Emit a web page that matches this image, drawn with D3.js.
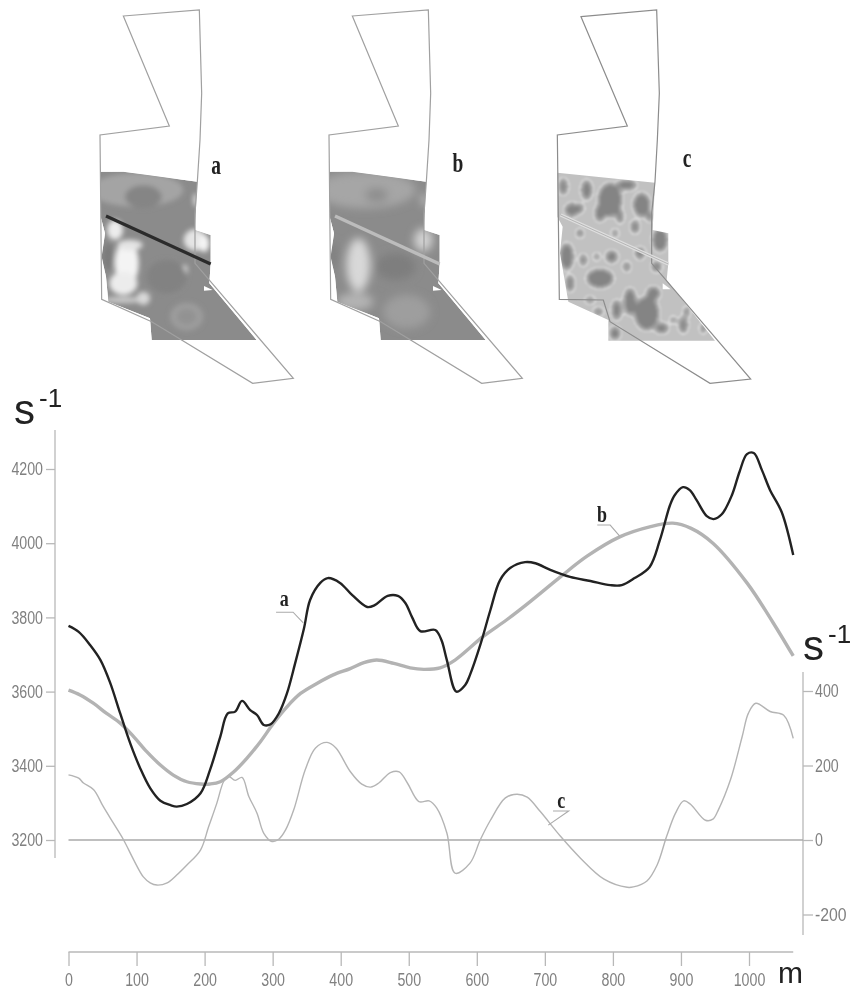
<!DOCTYPE html>
<html>
<head>
<meta charset="utf-8">
<script src="https://cdnjs.cloudflare.com/ajax/libs/d3/7.8.5/d3.min.js"></script>
<style>
  html, body { margin: 0; padding: 0; background: #fff; }
  svg { display: block; filter: blur(0.4px); }
  .axis text { font: 18px "Liberation Sans", sans-serif; fill: #808080; }
  .axis path, .axis line { fill: none; stroke: #b8b8b8; stroke-width: 1.3; }
  .unit { font-family: "Liberation Sans", sans-serif; fill: #222; }
  .tag { font-family: "Liberation Serif", serif; font-weight: bold; fill: #222; }
</style>
</head>
<body>
<script>
// profile curves: [distance m, value]
var seriesA = [[0,3777],[15,3761],[32,3725],[47,3685],[61,3625],[76,3541],[91,3459],[105,3395],[120,3340],[135,3306],[150,3294],[159,3290],[174,3297],[194,3326],[208,3389],[223,3478],[234,3541],[245,3546],[255,3575],[267,3550],[277,3537],[287,3510],[297,3512],[309,3541],[321,3595],[333,3676],[346,3770],[355,3847],[370,3893],[381,3906],[399,3893],[417,3860],[439,3828],[450,3833],[469,3858],[484,3858],[495,3839],[505,3800],[517,3763],[539,3766],[548,3739],[556,3685],[570,3600],[583,3618],[590,3645],[605,3725],[620,3820],[634,3900],[649,3933],[671,3949],[686,3946],[708,3928],[737,3909],[767,3898],[796,3887],[813,3887],[832,3906],[854,3936],[869,4008],[884,4103],[891,4130],[903,4151],[913,4143],[923,4116],[938,4073],[948,4065],[960,4078],[975,4130],[986,4192],[997,4240],[1007,4243],[1019,4197],[1031,4143],[1048,4084],[1065,3968]];
var seriesB = [[0,3604],[17,3591],[37,3568],[56,3541],[76,3515],[96,3478],[115,3438],[135,3402],[154,3375],[174,3357],[194,3351],[208,3351],[223,3357],[243,3384],[262,3420],[282,3465],[301,3514],[321,3559],[341,3595],[365,3622],[389,3645],[414,3662],[434,3678],[453,3685],[478,3676],[502,3664],[522,3660],[546,3664],[568,3685],[609,3748],[645,3795],[678,3842],[722,3908],[762,3965],[810,4017],[854,4044],[888,4054],[915,4040],[947,4000],[997,3893],[1035,3787],[1065,3696]];
var seriesC = [[0,175],[15,166],[22,153],[37,135],[51,90],[66,45],[81,0],[96,-54],[110,-99],[120,-115],[130,-121],[145,-115],[159,-94],[174,-67],[194,-27],[206,36],[218,99],[228,157],[235,171],[245,160],[255,168],[265,117],[277,72],[287,18],[299,-4],[309,2],[319,27],[331,81],[348,189],[363,247],[380,262],[393,247],[414,184],[431,150],[444,142],[456,153],[473,181],[486,183],[498,153],[515,103],[530,105],[541,86],[556,19],[568,-89],[590,-62],[605,0],[620,53],[642,113],[659,123],[674,115],[693,77],[723,10],[752,-48],[787,-105],[821,-127],[830,-126],[850,-110],[865,-67],[879,10],[892,72],[904,105],[914,96],[936,53],[947,56],[955,81],[973,163],[990,278],[999,340],[1010,367],[1031,345],[1051,335],[1065,273]];

var xTicks = [0,100,200,300,400,500,600,700,800,900,1000];
var leftTicks = [3200,3400,3600,3800,4000,4200];
var rightTicks = [-200,0,200,400];

// curve labels and their leader lines, in distance / left axis units
var leaderA = [[305,3814],[330,3814],[345,3785]];
var leaderB = [[777,4049],[796,4049],[810,4019]];
var leaderC = [[712,3278],[735,3278],[705,3240]];
var curveTags = [["a",317,3831],["b",784,4057],["c",724,3286]];

// map sheets, outline and raster edge in sheet units
var outlineAB = [[130,48],[358,30],[365,280],[360,420],[352,545],[345,640],[345,790],[640,1135],[518,1150],[215,965],[65,898],[60,405],[268,378]];
var outlineC = [[123,50],[350,30],[358,280],[352,420],[345,545],[335,640],[335,790],[632,1137],[510,1150],[210,965],[190,900],[58,898],[52,405],[262,378]];
var rasterAB = [[60,515],[130,515],[352,545],[345,690],[392,705],[392,790],[388,850],[530,1020],[215,1020],[210,955],[85,905],[78,830],[65,770],[75,700],[62,650]];
var rasterC = [[52,518],[345,548],[338,690],[385,700],[385,790],[380,840],[525,1022],[205,1022],[205,960],[85,905],[60,760],[68,680],[52,650]];
var notchAB = [[372,858],[398,870],[372,872]];
var notchC = [[368,850],[392,868],[368,868]];
var profileAB = [[78,648],[392,792]];
var profileC = [[62,645],[385,792]];

// blobs seen on the maps: cx, cy, rx, ry, grey
var blobsA = [[170,570,140,50,"#a4a4a4"],[190,590,55,34,"#858585"],[140,790,36,70,"#f4f4f4"],[130,850,42,35,"#ececec"],[105,690,24,30,"#ececec"],[150,735,38,16,"#e4e4e4"],[345,720,34,32,"#e4e4e4"],[372,730,16,26,"#f4f4f4"],[130,900,70,9,"#cccccc"],[190,895,20,20,"#d8d8d8"],[315,810,8,16,"#dcdcdc"],[346,600,5,20,"#f4f4f4"],[85,770,16,40,"#7c7c7c"],[320,950,50,42,"#9c9c9c"],[320,950,28,22,"#929292"],[260,830,60,50,"#828282"]];
var blobsB = [[170,570,150,55,"#a6a6a6"],[203,585,34,22,"#8e8e8e"],[148,795,36,80,"#d8d8d8"],[343,720,28,34,"#d2d2d2"],[138,905,55,26,"#b4b4b4"],[73,765,15,40,"#808080"],[293,935,70,50,"#9e9e9e"],[260,800,60,40,"#7e7e7e"],[346,600,5,18,"#f0f0f0"]];
var blobsC = [[210,600,35,50],[305,615,25,35],[80,770,20,40],[80,770,12,28],[180,835,40,28],[215,770,18,18],[320,940,36,50],[270,905,18,40],[230,930,14,30],[365,985,20,15],[430,975,12,25],[225,1000,15,20],[95,630,20,20],[140,570,15,30],[260,555,30,15],[360,720,22,35],[260,800,10,15],[350,800,15,15],[70,560,12,25],[175,935,15,10],[120,700,10,12],[180,640,15,25],[285,680,12,20],[440,935,8,15],[400,960,8,10],[490,985,8,15],[170,770,8,10],[130,780,10,18],[300,760,14,18],[240,650,10,20],[120,625,10,14],[340,880,20,20],[90,850,12,25],[330,650,10,14],[225,700,8,12],[150,900,14,8]];
var mapTags = [["a",216,174],["b",458,172],["c",687,167]];

var width = 853, height = 991;
var svg = d3.select("body").append("svg").attr("width", width).attr("height", height);

var x = d3.scaleLinear().domain([0,1000]).range([68.5,749]);
var yLeft = d3.scaleLinear().domain([3200,4200]).range([840,469]);
var yRight = d3.scaleLinear().domain([0,400]).range([840,691]);

// ---- maps ----
var defs = svg.append("defs");
defs.append("filter").attr("id","softA").append("feGaussianBlur").attr("stdDeviation",2.6);
defs.append("filter").attr("id","softB").append("feGaussianBlur").attr("stdDeviation",4.5);

// blurred blobs cut into grey bands, gives the contour look of map c
var bands = defs.append("filter").attr("id","bands").attr("color-interpolation-filters","sRGB");
bands.append("feGaussianBlur").attr("stdDeviation",2.8);
var table = bands.append("feComponentTransfer");
["feFuncR","feFuncG","feFuncB"].forEach(function(f) {
  table.append(f).attr("type","discrete").attr("tableValues","0.52 0.57 0.62 0.67 0.72 0.85 0.76");
});
bands.append("feGaussianBlur").attr("stdDeviation",0.8);

function drawMap(id, left, outline, raster, profile, notch, blobs) {
  var mx = d3.scaleLinear().domain([0,720]).range([left,left+240]);
  var my = d3.scaleLinear().domain([0,1170]).range([0,390]);
  var closed = d3.line().x(function(d){return mx(d[0]);}).y(function(d){return my(d[1]);}).curve(d3.curveLinearClosed);
  var open = d3.line().x(function(d){return mx(d[0]);}).y(function(d){return my(d[1]);});

  defs.append("clipPath").attr("id","clip"+id).append("path").attr("d", closed(raster));
  var g = svg.append("g").attr("clip-path","url(#clip"+id+")");

  if (id == "c") {
    var inner = g.append("g").attr("filter","url(#bands)");
    inner.append("rect").attr("x",mx(20)).attr("y",my(480)).attr("width",mx(560)-mx(20)).attr("height",my(1060)-my(480)).attr("fill","#fff");
    inner.selectAll("ellipse").data(blobs).enter().append("ellipse")
      .attr("cx", function(d){return mx(d[0]);})
      .attr("cy", function(d){return my(d[1]);})
      .attr("rx", function(d){return mx(d[2])-mx(0);})
      .attr("ry", function(d){return my(d[3])-my(0);})
      .attr("fill","#000");
  } else {
    g.append("path").attr("d", closed(raster)).attr("fill","#8b8b8b");
    g.append("g").attr("filter","url(#soft"+id.toUpperCase()+")").selectAll("ellipse").data(blobs).enter().append("ellipse")
      .attr("cx", function(d){return mx(d[0]);})
      .attr("cy", function(d){return my(d[1]);})
      .attr("rx", function(d){return mx(d[2])-mx(0);})
      .attr("ry", function(d){return my(d[3])-my(0);})
      .attr("fill", function(d){return d[4];});
  }
  g.append("path").attr("d", closed(notch)).attr("fill","#fff");

  svg.append("path").attr("d", closed(outline)).attr("fill","none")
    .attr("stroke", id == "c" ? "#8c8c8c" : "#a0a0a0").attr("stroke-width",1.2);

  if (id == "a") {
    svg.append("path").attr("d", open(profile)).attr("stroke","#2b2b2b").attr("stroke-width",3.2).attr("fill","none");
  } else if (id == "b") {
    svg.append("path").attr("d", open(profile)).attr("stroke","#bcbcbc").attr("stroke-width",3.4).attr("fill","none");
  } else {
    svg.append("path").attr("d", open(profile)).attr("stroke","#dedede").attr("stroke-width",3.4).attr("fill","none");
    svg.append("path").attr("d", open(profile)).attr("stroke","#b0b0b0").attr("stroke-width",0.9).attr("fill","none");
  }
}

drawMap("a", 80, outlineAB, rasterAB, profileAB, notchAB, blobsA);
drawMap("b", 309, outlineAB, rasterAB, profileAB, notchAB, blobsB);
drawMap("c", 540, outlineC, rasterC, profileC, notchC, blobsC);

svg.selectAll(".mapTag").data(mapTags).enter().append("text")
  .attr("class","tag mapTag")
  .attr("transform", function(d){return "translate("+d[1]+","+d[2]+") scale(0.72,1)";})
  .attr("text-anchor","middle").attr("font-size",27)
  .text(function(d){return d[0];});

// ---- axes ----
function squeeze(g) {
  // the scan has tall narrow digits
  g.selectAll("text")
    .attr("textLength", function(d){return String(d).length*7.9;})
    .attr("lengthAdjust","spacingAndGlyphs");
}
var axisL = d3.axisLeft(yLeft).tickValues(leftTicks).tickSize(9).tickSizeOuter(0).tickPadding(3).tickFormat(String);
var gL = svg.append("g").attr("class","axis").attr("transform","translate(55,0)").call(axisL);
gL.select(".domain").attr("d","M0,430V858");
squeeze(gL);

var axisR = d3.axisRight(yRight).tickValues(rightTicks).tickSize(10).tickSizeOuter(0).tickPadding(2).tickFormat(String);
var gR = svg.append("g").attr("class","axis").attr("transform","translate(803,0)").call(axisR);
gR.select(".domain").attr("d","M0,672V935");
squeeze(gR);

var axisB = d3.axisBottom(x).tickValues(xTicks).tickSize(14).tickSizeOuter(0).tickPadding(7).tickFormat(String);
var gB = svg.append("g").attr("class","axis").attr("transform","translate(0,952)").call(axisB);
gB.select(".domain").attr("d","M"+x(0)+",0H"+x(1065));
squeeze(gB);

// zero line of the c curve
svg.append("line").attr("x1",x(0)).attr("x2",803).attr("y1",yRight(0)).attr("y2",yRight(0))
  .attr("stroke","#aaa").attr("stroke-width",1.4);

// ---- curves ----
function curve(data, scale, color, w) {
  var l = d3.line().x(function(d){return x(d[0]);}).y(function(d){return scale(d[1]);}).curve(d3.curveCatmullRom.alpha(0.5));
  svg.append("path").datum(data).attr("d", l).attr("fill","none")
    .attr("stroke",color).attr("stroke-width",w).attr("stroke-linejoin","round");
}
curve(seriesC, yRight, "#b4b4b4", 1.4);
curve(seriesB, yLeft, "#b3b3b3", 3.4);
curve(seriesA, yLeft, "#222", 2.4);

var leader = d3.line().x(function(d){return x(d[0]);}).y(function(d){return yLeft(d[1]);});
[leaderA, leaderB, leaderC].forEach(function(d) {
  svg.append("path").attr("d", leader(d)).attr("fill","none").attr("stroke","#aaa").attr("stroke-width",1.1);
});
svg.selectAll(".curveTag").data(curveTags).enter().append("text")
  .attr("class","tag curveTag")
  .attr("transform", function(d){return "translate("+x(d[1])+","+yLeft(d[2])+") scale(0.75,1)";})
  .attr("text-anchor","middle").attr("font-size",24)
  .text(function(d){return d[0];});

// ---- units ----
function unit(px, py) {
  var t = svg.append("text").attr("class","unit").attr("x",px).attr("y",py).attr("font-size",42);
  t.append("tspan").text("s");
  t.append("tspan").attr("dx",4).attr("dy",-17).attr("font-size",26).text("-1");
}
unit(14, 424);
unit(803, 660);
svg.append("text").attr("class","unit").attr("x",778).attr("y",983).attr("font-size",30).text("m");
</script>
</body>
</html>
